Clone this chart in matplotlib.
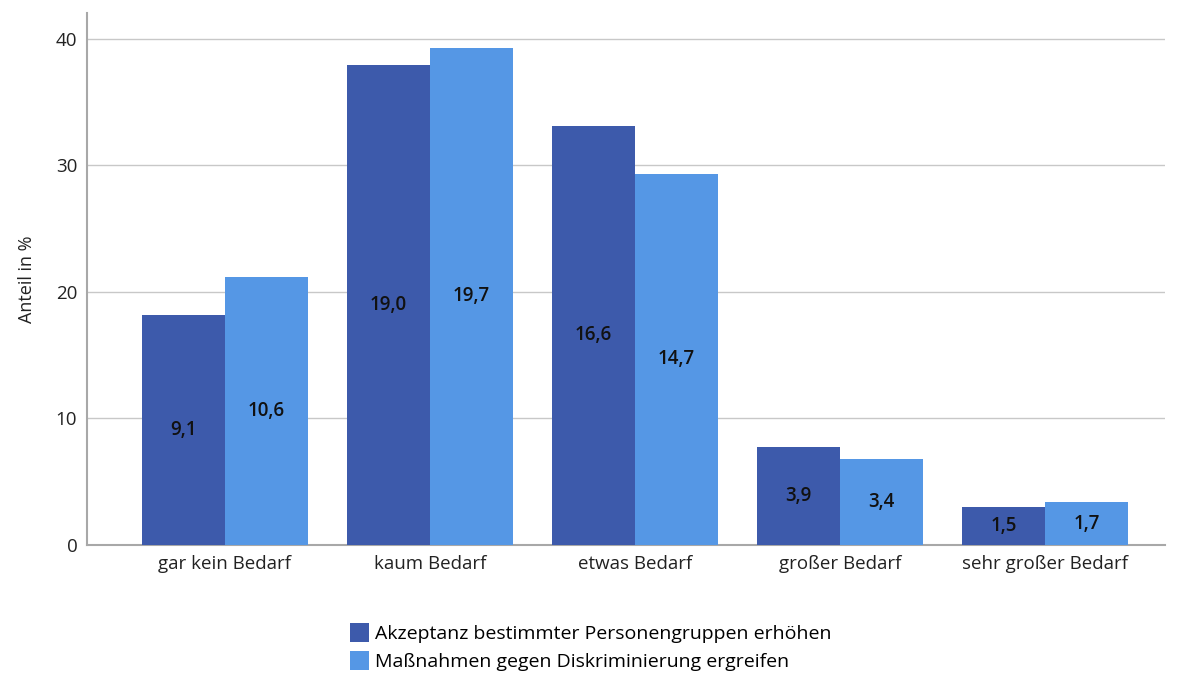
import matplotlib
matplotlib.use("Agg")
import matplotlib.pyplot as plt
import numpy as np

categories = ["gar kein Bedarf", "kaum Bedarf", "etwas Bedarf", "großer Bedarf", "sehr großer Bedarf"]
series_names = ["Akzeptanz bestimmter Personengruppen erhöhen",
                "Maßnahmen gegen Diskriminierung ergreifen"]
# shares of all answers (both series together = 100 %)
akzeptanz = [9.1, 19.0, 16.6, 3.9, 1.5]
massnahmen = [10.6, 19.7, 14.7, 3.4, 1.7]
y_ticks = [0, 10, 20, 30, 40]

colors = ["#3d5aab", "#5597e5"]
plt.rcParams["font.family"] = ["Open Sans", "DejaVu Sans"]

fig = plt.figure(figsize=(11.8, 6.73), dpi=100)
ax = fig.add_axes([87 / 1180, 1 - 545 / 673, (1165 - 87) / 1180, (545 - 13) / 673])

x = np.arange(len(categories))
w = 0.405
for i, (vals, name) in enumerate(zip([akzeptanz, massnahmen], series_names)):
    vals = np.array(vals)
    # bar height: share within the series
    heights = vals / vals.sum() * 100
    offs = (i - 0.5) * w
    ax.bar(x + offs, heights, width=w, color=colors[i], label=name, zorder=3)
    for xi, h, v in zip(x + offs, heights, vals):
        ax.text(xi, h / 2, f"{v:.1f}".replace(".", ","), ha="center", va="center",
                fontsize=13.5, fontweight="semibold", color="#111111", zorder=4)

ax.set_xlim(-0.673, 4.585)
ax.set_ylim(0, 42.05)
ax.set_yticks(y_ticks)
ax.set_xticks(x)
ax.set_xticklabels(categories)
ax.yaxis.grid(True, color="#c8c8c8", linewidth=1.0, zorder=0)
ax.set_axisbelow(True)
for s in ["top", "right"]:
    ax.spines[s].set_visible(False)
for s in ["left", "bottom"]:
    ax.spines[s].set_color("#a8a8a8")
    ax.spines[s].set_linewidth(1.5)
ax.tick_params(axis="both", length=0, colors="#222222")
ax.tick_params(axis="y", pad=7, labelsize=13.5)
ax.tick_params(axis="x", pad=7, labelsize=13.5)
ax.set_ylabel("Anteil in %", fontsize=13, color="#222222", labelpad=14)

fig.legend(loc="upper left", bbox_to_anchor=(350 / 1180, 1 - 623 / 673), frameon=False,
           fontsize=14, handlelength=1.0, handleheight=1.1, handletextpad=0.3,
           labelspacing=0.42, borderpad=0, borderaxespad=0)

fig.savefig("out.png", dpi=100)
